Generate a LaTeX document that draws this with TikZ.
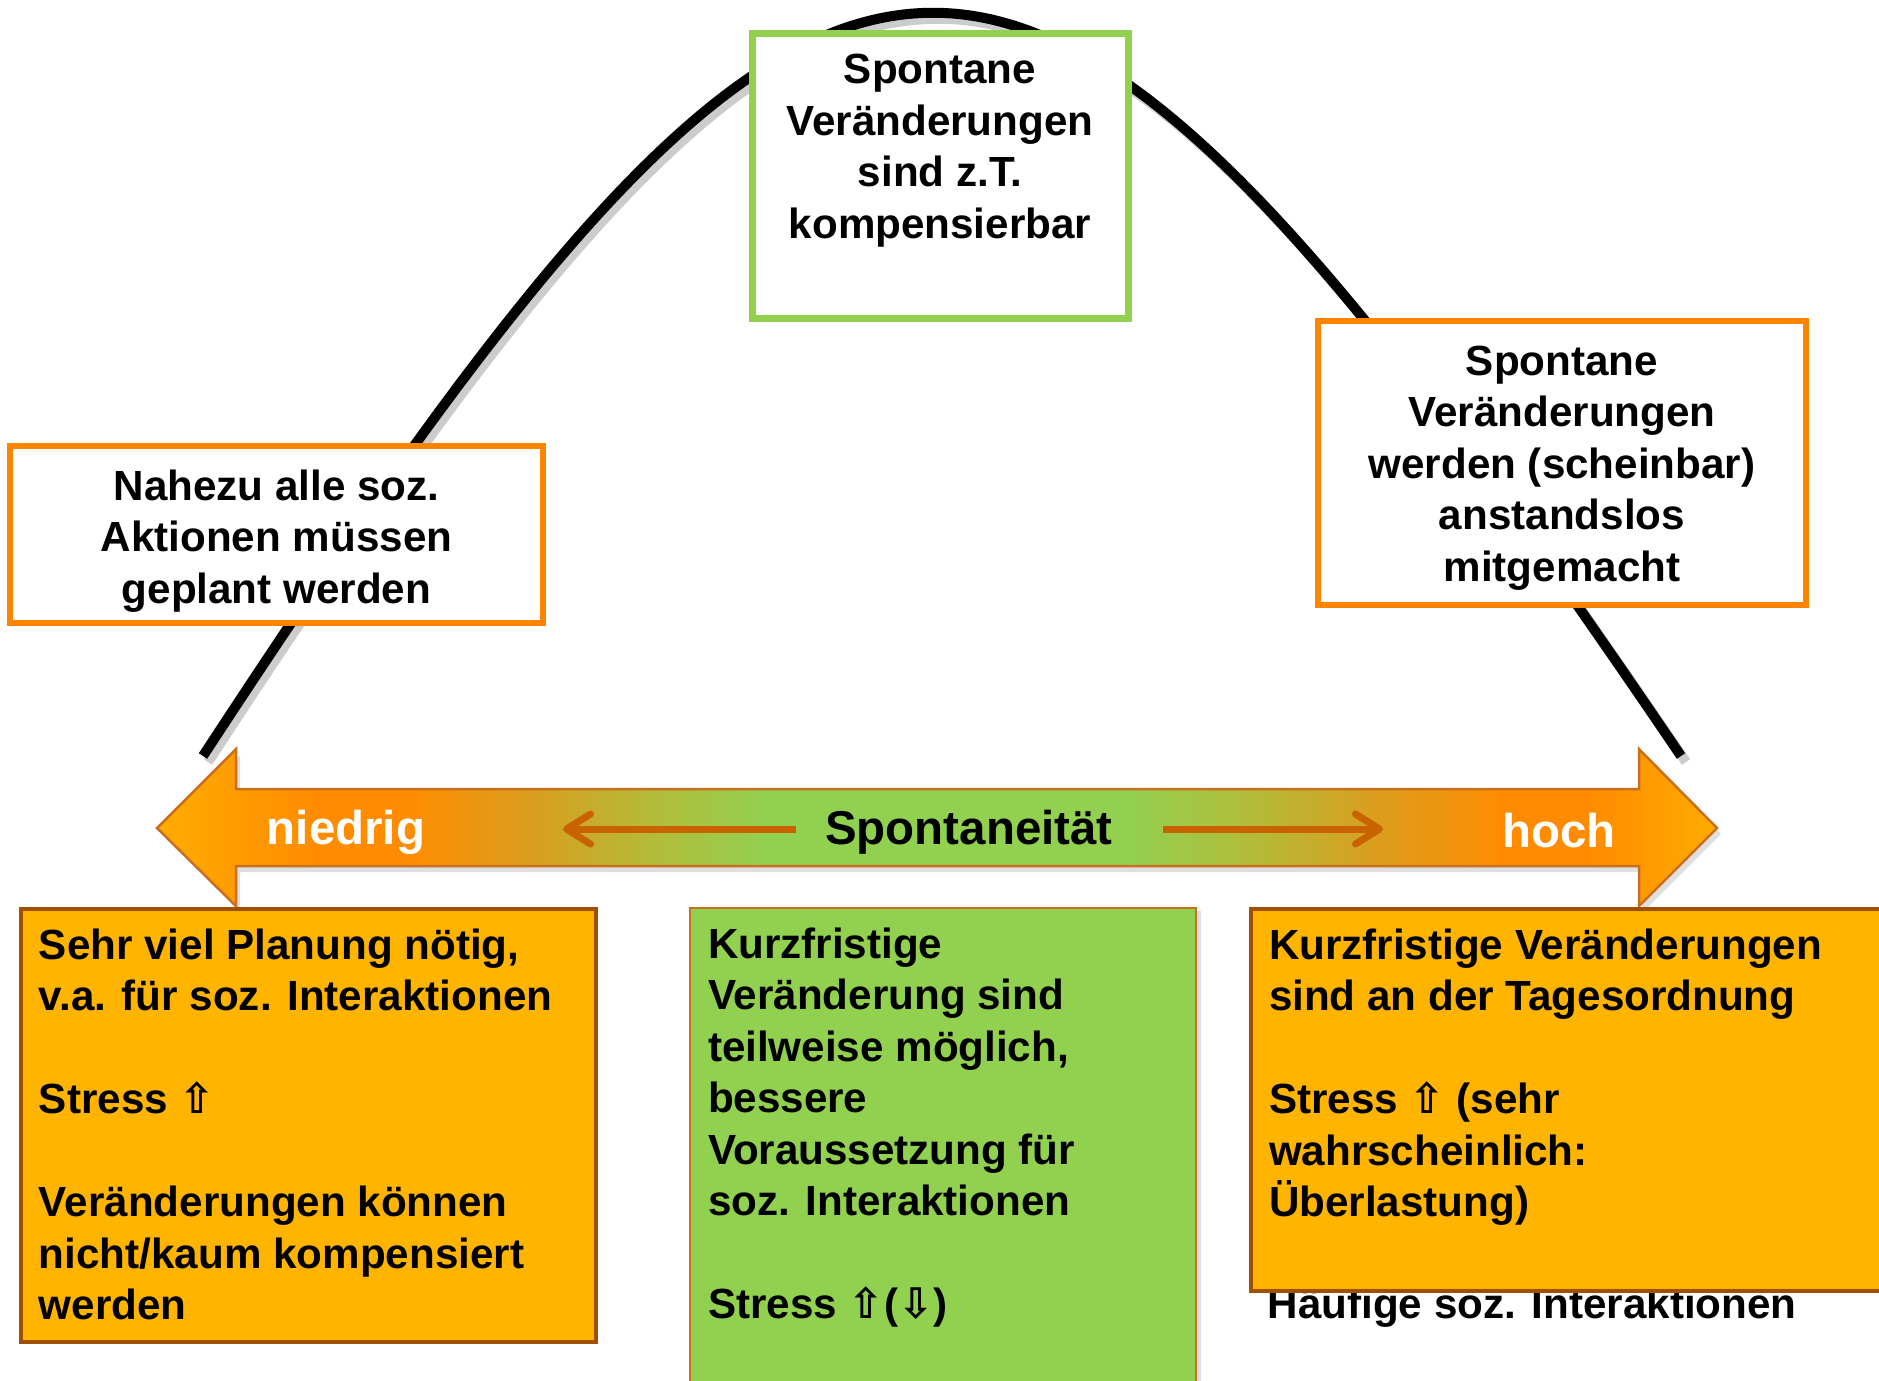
\documentclass[tikz,border=0pt]{standalone}
\usepackage{fontspec}
\setmainfont{Liberation Sans}
\newfontfamily\pfeilfont{DejaVu Sans}
\usepackage{xcolor}
\usepackage{tikz}
\usetikzlibrary{positioning,arrows.meta,shadows}
\definecolor{leaf}{HTML}{92D050}
\definecolor{signal}{HTML}{FF8400}
\definecolor{amber}{HTML}{FFB400}
\definecolor{rust}{HTML}{A05000}
\definecolor{ember}{HTML}{C96300}
\definecolor{edge}{HTML}{C8701E}
\definecolor{tipglow}{HTML}{FFAC00}
\definecolor{peak}{HTML}{FF8C00}
\definecolor{ochre}{HTML}{DA9E1E}
\definecolor{olive}{HTML}{B2BC3A}

\pgfdeclarehorizontalshading{spontshade}{100bp}{%
  color(0bp)=(tipglow); color(25bp)=(tipglow); color(30bp)=(peak); color(33bp)=(peak);
  color(37bp)=(ochre); color(41bp)=(olive); color(44.5bp)=(leaf); color(56bp)=(leaf);
  color(60bp)=(olive); color(64bp)=(ochre); color(68bp)=(peak); color(71bp)=(peak);
  color(75bp)=(tipglow); color(100bp)=(tipglow)}

\newcommand{\boxfont}{\fontsize{12}{14.65}\selectfont\bfseries}
\newcommand{\scalefont}{\fontsize{13.5}{16}\selectfont\bfseries}
\newcommand{\stressup}{{\pfeilfont ⇧}}
\newcommand{\stressdown}{{\pfeilfont ⇩}}

\tikzset{
  planbox/.style={fill=white, line width=.55mm, font=\boxfont, inner sep=0pt},
  lowbox/.style={line width=.4mm, font=\boxfont, inner xsep=1.8mm, inner ysep=1.95mm, anchor=north west},
  scalelabel/.style={font=\scalefont, inner sep=0pt},
  smallarrow/.style={ember, line width=.7mm, -{Straight Barb[length=2.4mm,width=3mm,round]}}
}

\begin{document}
\begin{tikzpicture}[x=0.1mm, y=-0.1mm]
  \fill[white] (0,0) rectangle (1879,1380);
  \useasboundingbox (0,0) rectangle (1879,1380);
  \clip (0,0) rectangle (1879,1380);

  % bell curve
  \coordinate (lowend) at (203,756);
  \coordinate (highend) at (1681,756);
  \draw[black!20, line width=1mm, transform canvas={shift={(0.5mm,-0.6mm)}}]
    (lowend) .. controls (851,-235) and (1009,-235) .. (highend);
  \draw[black, line width=1mm] (lowend) .. controls (851,-235) and (1009,-235) .. (highend);

  % boxes on the curve
  \node[planbox, draw=signal, align=center, minimum width=53.3mm, minimum height=17.7mm]
    (nahezu) at (276.5,534.5) {\rule{0pt}{4.3mm}Nahezu alle soz.\\Aktionen müssen\\geplant werden};
  \node[planbox, draw=leaf, line width=.7mm, anchor=north, inner ysep=2.1mm]
    (kompens) at (940,30) {\parbox[t][24.3mm][t]{37.6mm}{\centering Spontane\\Veränderungen\\sind z.T.\\kompensierbar}};
  \node[planbox, draw=signal, align=center, minimum width=48.8mm, minimum height=28.4mm]
    (mitgemacht) at (1562,463) {\rule{0pt}{3.9mm}Spontane\\Veränderungen\\werden (scheinbar)\\anstandslos\\mitgemacht};

  % scale arrow
  \path[draw=edge, line width=.25mm, shade, shading=spontshade,
        drop shadow={shadow xshift=.4mm, shadow yshift=-.6mm, opacity=.25}]
    (157,828) -- (236,749) -- (236,789) -- (1639,789) -- (1639,749) -- (1717,828)
    -- (1639,906) -- (1639,866) -- (236,866) -- (236,906) -- cycle;
  \node[scalelabel, text=white] (niedrig) at (346,832) {niedrig};
  \node[scalelabel, text=white] (hoch) at (1559,831) {hoch};
  \node[scalelabel] (spont) at (969,832) {Spontaneität};
  \coordinate (lefttip) at (563,829);
  \coordinate (righttip) at (1383,829);
  \draw[smallarrow] ([xshift=-2.9mm]spont.west |- lefttip) -- (lefttip);
  \draw[smallarrow] ([xshift=5mm]spont.east |- righttip) -- (righttip);

  % lower panels
  \node[font=\boxfont, anchor=base west, inner sep=0pt] (haeufig) at (1267,1318) {Häufige soz. Interaktionen};
  \node[lowbox, fill=amber, draw=rust] (planung) at (19,907)
    {\parbox[t][39.4mm][t]{53.9mm}{Sehr viel Planung nötig,\\v.a. für soz. Interaktionen\\[\baselineskip]
      Stress \stressup\\[\baselineskip]Veränderungen können\\nicht/kaum kompensiert\\werden}};
  \node[lowbox, fill=leaf, draw=edge, line width=.2mm,
        drop shadow={shadow xshift=.5mm, shadow yshift=-.3mm, opacity=.25}] (teilweise) at (689,907)
    {\parbox[t][45.4mm][t]{47mm}{Kurzfristige\\Veränderung sind\\teilweise möglich,\\bessere\\Voraussetzung für\\soz. Interaktionen\\[\baselineskip]
      Stress \stressup(\stressdown)}};
  \node[lowbox, fill=amber, draw=rust] (tagesordnung) at (1249,907)
    {\parbox[t][34.3mm][t]{61.5mm}{Kurzfristige Veränderungen\\sind an der Tagesordnung\\[\baselineskip]
      Stress \stressup{} (sehr\\wahrscheinlich:\\Überlastung)}};
\end{tikzpicture}
\end{document}
